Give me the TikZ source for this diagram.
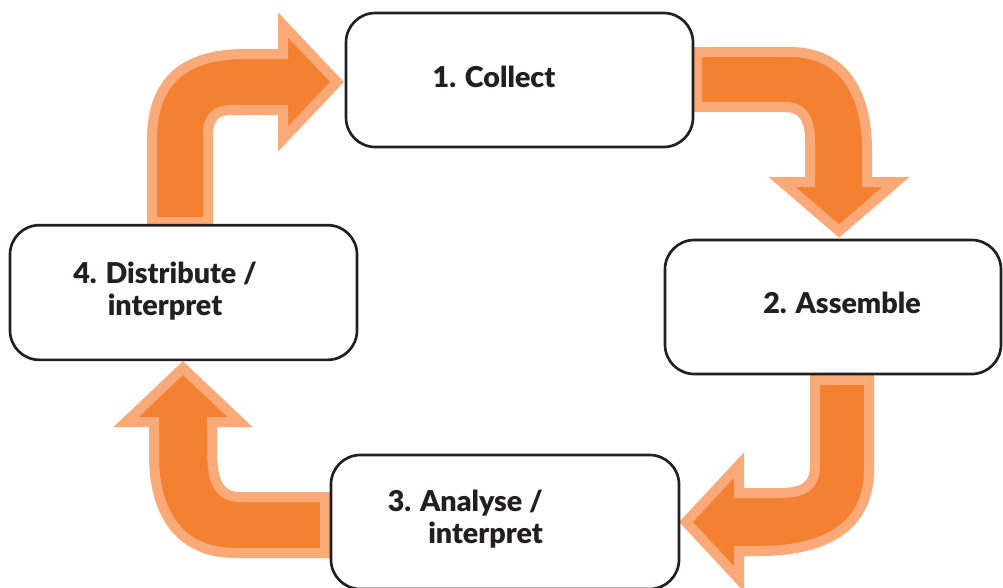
\documentclass[tikz,border=0pt]{standalone}
\usepackage{fontspec}
\setmainfont{Lato}[BoldFont={Lato Black}]
\definecolor{arrdark}{RGB}{244,129,50}
\definecolor{arrlight}{RGB}{249,170,120}
\definecolor{boxline}{RGB}{35,31,32}
\begin{document}
\begin{tikzpicture}[x=0.75pt,y=-0.75pt,
  bigarrow/.style={fill=arrdark,draw=arrlight,line width=7.5pt,line join=miter,miter limit=10},
  stagebox/.style={draw=boxline,fill=white,line width=2pt,rounded corners=22pt,rectangle,inner sep=0pt},
  stagetext/.style={font=\fontsize{21.5}{23.5}\selectfont\bfseries,text=boxline,inner sep=0pt}]
\useasboundingbox (0,0) rectangle (1003,587);
% arrows
\path[bigarrow] (152,222) -- (152,140) .. controls (152,80) and (185,54) .. (245,54) -- (283,54) -- (283,25) -- (337,82) -- (283,139) -- (283,110) -- (232,110) .. controls (215,110) and (208,118) .. (208,135) -- (208,222) -- cycle;
\path[bigarrow] (697,52) -- (790,52) .. controls (845,52) and (867,95) .. (867,150) -- (867,182) -- (896,182) -- (839,231) -- (782,182) -- (810,182) -- (810,140) .. controls (810,118) and (802,107) .. (785,107) -- (697,107) -- cycle;
\path[bigarrow] (815,380) -- (869,380) -- (869,470) .. controls (869,530) and (820,551) .. (760,551) -- (739,551) -- (739,579) -- (686,522) -- (739,465) -- (739,493) -- (780,493) .. controls (805,493) and (815,485) .. (815,465) -- cycle;
\path[bigarrow] (325,497) -- (240,497) .. controls (218,497) and (212,480) .. (212,450) -- (212,422) -- (240,422) -- (183,368) -- (126,422) -- (154,422) -- (154,455) .. controls (154,520) and (185,553) .. (235,553) -- (325,553) -- cycle;
% boxes
\node[stagebox,minimum width=260.25pt,minimum height=100.5pt] (b1) at (519.5,80) {};
\node[stagebox,minimum width=252pt,minimum height=100.5pt] (b2) at (833,307) {};
\node[stagebox,minimum width=261pt,minimum height=100.5pt] (b3) at (505,522) {};
\node[stagebox,minimum width=260.25pt,minimum height=101pt] (b4) at (183.5,292.5) {};
% texts
\node[stagetext,anchor=base] (t1) at (494,87) {1. Collect};
\node[stagetext,anchor=base] (t2) at (842,313) {2. Assemble};
\node[stagetext,anchor=base east,align=right] (t3) at (543,543) {3. Analyse /\\interpret};
\node[stagetext,anchor=base,align=center] (t4) at (165,315) {4. Distribute /\\interpret};
\end{tikzpicture}
\end{document}
